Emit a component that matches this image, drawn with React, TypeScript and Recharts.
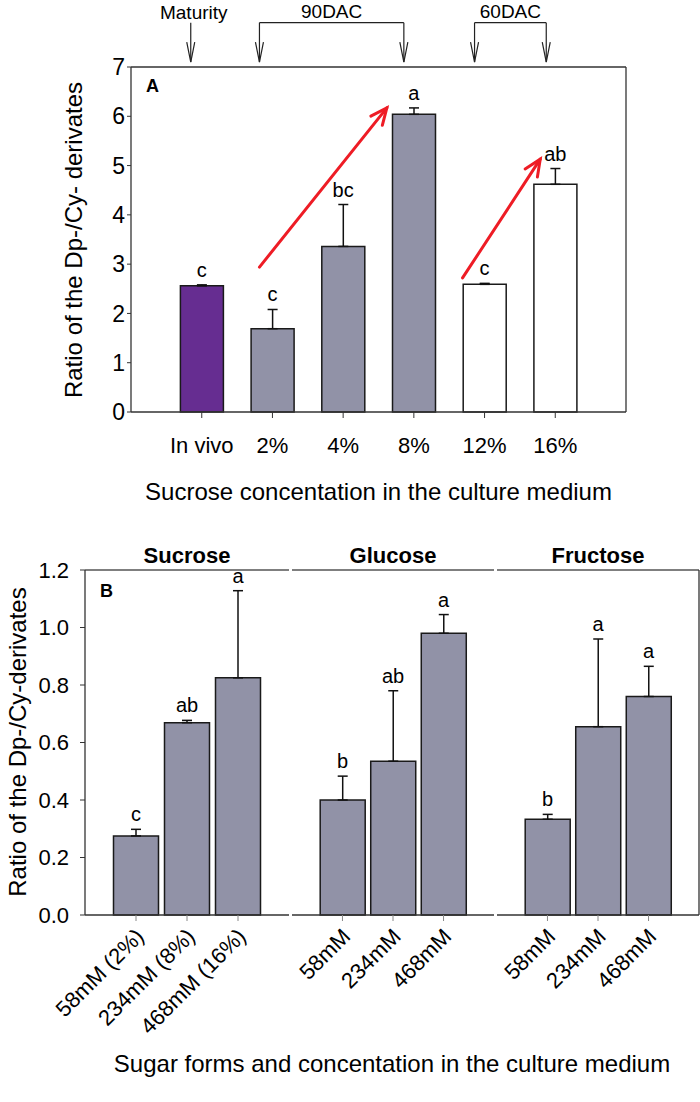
import React from "react";
import {
  ComposedChart,
  Bar,
  Line,
  XAxis,
  YAxis,
  ErrorBar,
  LabelList,
  Cell,
  ReferenceLine,
} from "recharts";

const FONT = '"Liberation Sans", Arial, Helvetica, sans-serif';

// ---- panel A data
const stagesA = ["In vivo", "2%", "4%", "8%", "12%", "16%"];
const ratioA = [2.56, 1.69, 3.36, 6.04, 2.59, 4.62];
const errA = [0.02, 0.39, 0.85, 0.13, 0.02, 0.32];
const letterA = ["c", "c", "bc", "a", "c", "ab"];
const ticksA = [0, 1, 2, 3, 4, 5, 6, 7];

// ---- panel B data
const sugars = ["Sucrose", "Glucose", "Fructose"];
const concSucrose = ["58mM (2%)", "234mM (8%)", "468mM (16%)"];
const concMM = ["58mM", "234mM", "468mM"];
const ratioSucrose = [0.275, 0.669, 0.825];
const errSucrose = [0.023, 0.008, 0.303];
const letterSucrose = ["c", "ab", "a"];
const ratioGlucose = [0.4, 0.535, 0.98];
const errGlucose = [0.083, 0.245, 0.065];
const letterGlucose = ["b", "ab", "a"];
const ratioFructose = [0.333, 0.655, 0.76];
const errFructose = [0.017, 0.305, 0.105];
const letterFructose = ["b", "a", "a"];
const ticksB = [0, 0.2, 0.4, 0.6, 0.8, 1.0, 1.2];

const PURPLE = "#662d91";
const GREY = "#9192a7";
const FILL_A = [PURPLE, GREY, GREY, GREY, "#ffffff", "#ffffff"];

function rows(names: string[], vals: number[], errs: number[], sig: string[]) {
  return names.map((name, i) => ({
    name,
    ratio: vals[i],
    err: [0, errs[i]],
    top: vals[i] + errs[i],
    sig: sig[i],
  }));
}

const dataA = rows(stagesA, ratioA, errA, letterA);
const dataSucrose = rows(concSucrose, ratioSucrose, errSucrose, letterSucrose);
const dataGlucose = rows(concMM, ratioGlucose, errGlucose, letterGlucose);
const dataFructose = rows(concMM, ratioFructose, errFructose, letterFructose);

const AXIS = "#333";
const txt = { fill: "#000", fontFamily: FONT };

type Seg = { x1?: number; y1?: number; x2?: number; y2?: number };

function DownArrow(p: Seg & { dx: number; text?: string }) {
  const x = (p.x1 ?? 0) + p.dx;
  const top = p.y1 ?? 0;
  const tip = p.y2 ?? 0;
  return (
    <g>
      <line x1={x} y1={top} x2={x} y2={tip} stroke="#222" strokeWidth={1.2} />
      <path
        d={`M${x - 4},${tip - 20} L${x},${tip} L${x + 4},${tip - 20}`}
        fill="none"
        stroke="#222"
        strokeWidth={1.2}
      />
      {p.text && (
        <text x={x + 3} y={top - 4} textAnchor="middle" fontSize={19} {...txt}>
          {p.text}
        </text>
      )}
    </g>
  );
}

function Bracket(p: Seg & { dx1: number; dx2: number; text: string }) {
  const xa = (p.x1 ?? 0) + p.dx1;
  const xb = (p.x2 ?? 0) + p.dx2;
  const y = p.y1 ?? 0;
  return (
    <g>
      <line x1={xa} y1={y} x2={xb} y2={y} stroke="#222" strokeWidth={1.2} />
      <text x={(xa + xb) / 2} y={y - 5} textAnchor="middle" fontSize={19} {...txt}>
        {p.text}
      </text>
    </g>
  );
}

function RedArrow(p: Seg & { dx1: number; dx2: number }) {
  const ax = (p.x1 ?? 0) + p.dx1;
  const ay = p.y1 ?? 0;
  const bx = (p.x2 ?? 0) + p.dx2;
  const by = p.y2 ?? 0;
  const ang = Math.atan2(by - ay, bx - ax);
  const L = 18;
  const s = 0.42;
  const h1 = `${bx - L * Math.cos(ang - s)},${by - L * Math.sin(ang - s)}`;
  const h2 = `${bx - L * Math.cos(ang + s)},${by - L * Math.sin(ang + s)}`;
  return (
    <g stroke="#ee1c25" strokeWidth={3} fill="none" strokeLinecap="round">
      <line x1={ax} y1={ay} x2={bx} y2={by} />
      <polyline points={`${h1} ${bx},${by} ${h2}`} strokeLinejoin="miter" />
    </g>
  );
}

function SlantTick(props: any) {
  const { x, y, payload } = props;
  return (
    <g transform={`translate(${x},${y})`}>
      <text
        x={0}
        y={0}
        dx={-4}
        dy={17}
        textAnchor="end"
        transform="rotate(-45)"
        fontSize={22}
        {...txt}
      >
        {payload.value}
      </text>
    </g>
  );
}

const TOP = 7.9;
const ARROW_END = 7.1;

function PanelA() {
  return (
    <ComposedChart
      width={700}
      height={520}
      data={dataA}
      margin={{ top: 67, right: 73, bottom: 58, left: 71 }}
    >
      <XAxis
        dataKey="name"
        padding={{ left: 35.4, right: 35.4 }}
        height={50}
        tickSize={6}
        tickMargin={19}
        tick={{ fontSize: 22, ...txt }}
        axisLine={{ stroke: AXIS, strokeWidth: 1.3 }}
        tickLine={{ stroke: AXIS }}
        interval={0}
      />
      <YAxis
        width={60}
        domain={[0, 7]}
        ticks={ticksA}
        tickSize={4}
        tickMargin={2}
        tick={{ fontSize: 23, ...txt }}
        axisLine={{ stroke: AXIS, strokeWidth: 1.3 }}
        tickLine={{ stroke: AXIS }}
      />
      <YAxis
        yAxisId="frame"
        orientation="right"
        width={1}
        domain={[0, 7]}
        tick={false}
        tickLine={false}
        axisLine={{ stroke: AXIS, strokeWidth: 1.3 }}
      />
      <ReferenceLine y={7} stroke={AXIS} strokeWidth={1.3} />
      <Bar
        dataKey="ratio"
        barSize={43}
        stroke="#1a1a1a"
        strokeWidth={1.5}
        isAnimationActive={false}
      >
        {dataA.map((d, i) => (
          <Cell key={d.name} fill={FILL_A[i]} />
        ))}
        <ErrorBar dataKey="err" width={5} stroke="#111" strokeWidth={1.5} />
      </Bar>
      <Line
        dataKey="top"
        stroke="none"
        dot={false}
        activeDot={false}
        legendType="none"
        isAnimationActive={false}
      >
        <LabelList dataKey="sig" position="top" offset={8} fontSize={20} {...txt} />
      </Line>

      <ReferenceLine
        segment={[{ x: "2%", y: 2.94 }, { x: "8%", y: 6.17 }]}
        ifOverflow="visible"
        shape={(p: any) => <RedArrow {...p} dx1={-13} dx2={-27} />}
      />
      <ReferenceLine
        segment={[{ x: "12%", y: 2.72 }, { x: "16%", y: 5.13 }]}
        ifOverflow="visible"
        shape={(p: any) => <RedArrow {...p} dx1={-22} dx2={-15} />}
      />

      <ReferenceLine
        segment={[{ x: "In vivo", y: TOP }, { x: "In vivo", y: ARROW_END }]}
        ifOverflow="visible"
        shape={(p: any) => <DownArrow {...p} dx={-11} text="Maturity" />}
      />
      <ReferenceLine
        segment={[{ x: "2%", y: TOP }, { x: "2%", y: ARROW_END }]}
        ifOverflow="visible"
        shape={(p: any) => <DownArrow {...p} dx={-13} />}
      />
      <ReferenceLine
        segment={[{ x: "8%", y: TOP }, { x: "8%", y: ARROW_END }]}
        ifOverflow="visible"
        shape={(p: any) => <DownArrow {...p} dx={-10} />}
      />
      <ReferenceLine
        segment={[{ x: "2%", y: TOP }, { x: "8%", y: TOP }]}
        ifOverflow="visible"
        shape={(p: any) => <Bracket {...p} dx1={-13} dx2={-10} text="90DAC" />}
      />
      <ReferenceLine
        segment={[{ x: "12%", y: TOP }, { x: "12%", y: ARROW_END }]}
        ifOverflow="visible"
        shape={(p: any) => <DownArrow {...p} dx={-10} />}
      />
      <ReferenceLine
        segment={[{ x: "16%", y: TOP }, { x: "16%", y: ARROW_END }]}
        ifOverflow="visible"
        shape={(p: any) => <DownArrow {...p} dx={-9} />}
      />
      <ReferenceLine
        segment={[{ x: "12%", y: TOP }, { x: "16%", y: TOP }]}
        ifOverflow="visible"
        shape={(p: any) => <Bracket {...p} dx1={-10} dx2={-9} text="60DAC" />}
      />
    </ComposedChart>
  );
}

function SugarPanel({
  data,
  title,
  first,
  last,
  width,
}: {
  data: ReturnType<typeof rows>;
  title: string;
  first?: boolean;
  last?: boolean;
  width: number;
}) {
  const pad = first ? 25.5 : 25.2;
  return (
    <ComposedChart
      width={width}
      height={520}
      data={data}
      margin={{ top: 50, right: last ? 0 : 1, bottom: 5, left: first ? 25 : 1 }}
    >
      <XAxis
        dataKey="name"
        padding={{ left: pad, right: pad }}
        height={120}
        tickSize={6}
        tickMargin={2}
        tick={<SlantTick />}
        axisLine={{ stroke: AXIS, strokeWidth: 1.3 }}
        tickLine={{ stroke: "#888" }}
        interval={0}
      />
      <YAxis
        hide={!first}
        width={60}
        domain={[0, 1.2]}
        ticks={ticksB}
        tickFormatter={(v: number) => v.toFixed(1)}
        tickSize={5}
        tickMargin={11}
        tick={{ fontSize: 22, ...txt }}
        axisLine={{ stroke: AXIS, strokeWidth: 1.3 }}
        tickLine={{ stroke: AXIS }}
      />
      {last && (
        <YAxis
          yAxisId="frame"
          orientation="right"
          width={1}
          domain={[0, 1.2]}
          tick={false}
          tickLine={false}
          axisLine={{ stroke: AXIS, strokeWidth: 1.3 }}
        />
      )}
      <ReferenceLine
        y={1.2}
        stroke="#555"
        strokeWidth={1.3}
        label={{
          value: title,
          position: "top",
          offset: 7,
          fontSize: 22,
          fontWeight: 700,
          ...txt,
        }}
      />
      <Bar
        dataKey="ratio"
        barSize={45}
        fill={GREY}
        stroke="#1a1a1a"
        strokeWidth={1.5}
        isAnimationActive={false}
      >
        <ErrorBar dataKey="err" width={5} stroke="#111" strokeWidth={1.5} />
      </Bar>
      <Line
        dataKey="top"
        stroke="none"
        dot={false}
        activeDot={false}
        legendType="none"
        isAnimationActive={false}
      >
        <LabelList dataKey="sig" position="top" offset={8} fontSize={20} {...txt} />
      </Line>
    </ComposedChart>
  );
}

export default function App() {
  const abs = (left: number, top: number): React.CSSProperties => ({
    position: "absolute",
    left,
    top,
  });
  return (
    <div style={{ position: "relative", width: 700, height: 1102, background: "#fff", fontFamily: FONT }}>
      <style>{"body{margin:0;}"}</style>

      <div style={abs(0, 0)}>
        <PanelA />
      </div>
      <div style={{ ...abs(146, 76), fontSize: 18, fontWeight: 700 }}>A</div>
      <div
        style={{
          ...abs(74 - 220, 240 - 15),
          width: 440,
          height: 30,
          lineHeight: "30px",
          textAlign: "center",
          fontSize: 24,
          transform: "rotate(-90deg)",
        }}
      >
        Ratio of the Dp-/Cy- derivates
      </div>
      <div
        style={{
          ...abs(131, 478),
          width: 495,
          height: 28,
          lineHeight: "28px",
          textAlign: "center",
          fontSize: 24,
        }}
      >
        Sucrose concentation in the culture medium
      </div>

      <div style={abs(0, 520)}>
        <SugarPanel data={dataSucrose} title={sugars[0]} first width={290} />
      </div>
      <div style={abs(291, 520)}>
        <SugarPanel data={dataGlucose} title={sugars[1]} width={204} />
      </div>
      <div style={abs(496, 520)}>
        <SugarPanel data={dataFructose} title={sugars[2]} last width={204} />
      </div>
      <div style={{ ...abs(100, 581), fontSize: 18, fontWeight: 700 }}>B</div>
      <div
        style={{
          ...abs(18 - 220, 742 - 15),
          width: 440,
          height: 30,
          lineHeight: "30px",
          textAlign: "center",
          fontSize: 24,
          transform: "rotate(-90deg)",
        }}
      >
        Ratio of the Dp-/Cy-derivates
      </div>
      <div
        style={{
          ...abs(85, 1050),
          width: 614,
          height: 28,
          lineHeight: "28px",
          textAlign: "center",
          fontSize: 24,
        }}
      >
        Sugar forms and concentation in the culture medium
      </div>
    </div>
  );
}
